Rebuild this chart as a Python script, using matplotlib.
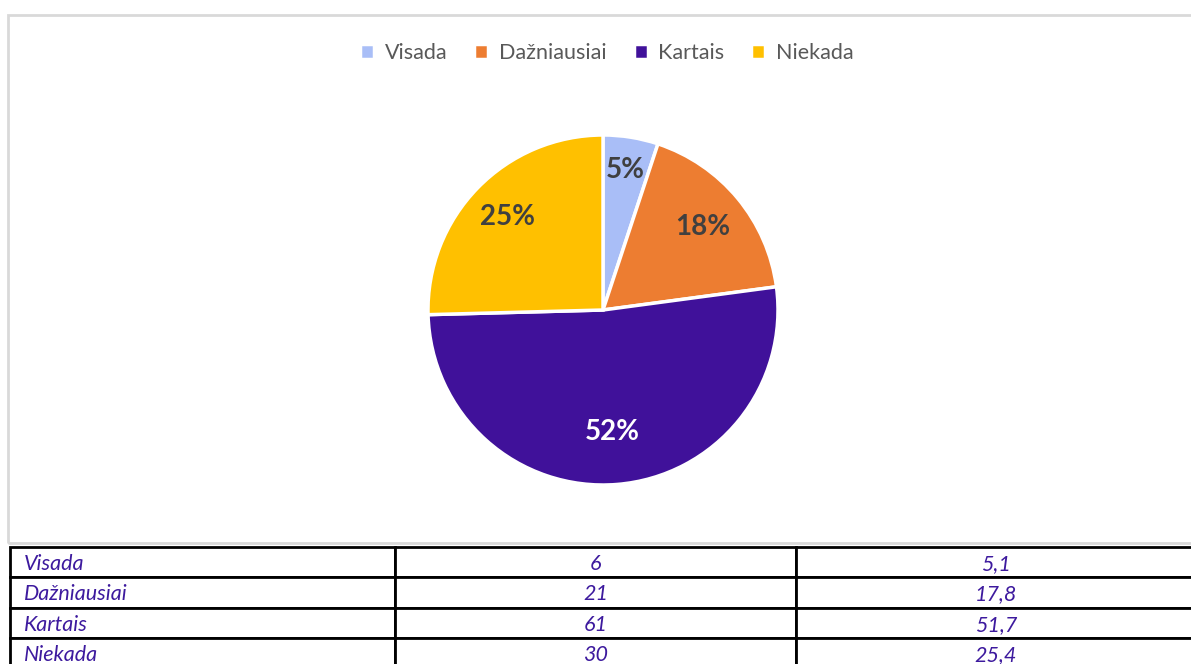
import numpy as np
import matplotlib.pyplot as plt
from matplotlib.patches import Rectangle

# Data
categories = ["Visada", "Dažniausiai", "Kartais", "Niekada"]
counts = [6, 21, 61, 30]
percents = ["5,1", "17,8", "51,7", "25,4"]
pie_labels = ["5%", "18%", "52%", "25%"]
colors = ["#A9BEF7", "#ED7D31", "#40119A", "#FFC000"]
label_colors = ["#404040", "#404040", "white", "#404040"]

W, H = 1191, 664
fig = plt.figure(figsize=(W / 100, H / 100), dpi=100)
plt.rcParams['font.family'] = ['Lato', 'DejaVu Sans']

# chart frame (light grey border, right edge runs off the image)
fig.patches.append(Rectangle((8 / W, 1 - 543 / H), 1.2, (543 - 15) / H,
                             transform=fig.transFigure, fill=False,
                             edgecolor="#D9D9D9", linewidth=2))

# pie
cx, cy, r = 603, 310, 175
ax = fig.add_axes([(cx - r) / W, 1 - (cy + r) / H, 2 * r / W, 2 * r / H])
wedges, _ = ax.pie(counts, colors=colors, startangle=90, counterclock=False,
                   radius=1, wedgeprops=dict(edgecolor="white", linewidth=2.5))
ax.set_xlim(-1, 1)
ax.set_ylim(-1, 1)
ax.set_aspect("equal")
ax.axis("off")

# data labels
dists = [0.81, 0.74, 0.70, 0.76]
for w, lab, col, d in zip(wedges, pie_labels, label_colors, dists):
    ang = np.deg2rad((w.theta1 + w.theta2) / 2)
    ax.text(d * np.cos(ang), d * np.sin(ang), lab, ha="center", va="center",
            fontsize=20, fontweight="bold", color=col)

# legend
fig.legend(wedges, categories, loc="center", bbox_to_anchor=(607 / W, 1 - 53 / H),
           ncol=4, frameon=False, fontsize=15.5, handlelength=0.65, handleheight=0.65,
           handletextpad=0.5, columnspacing=1.25, labelcolor="#595959")

# table below the chart
tax = fig.add_axes([10 / W, 1 - 668 / H, (1196 - 10) / W, (668 - 547) / H])
tax.axis("off")
cell_text = [[c, str(n), p] for c, n, p in zip(categories, counts, percents)]
widths = [385, 400, 400]
tbl = tax.table(cellText=cell_text, colWidths=[w / sum(widths) for w in widths],
                bbox=[0, 0, 1, 1], cellLoc="center")
tbl.auto_set_font_size(False)
for (row, col), cell in tbl.get_celld().items():
    cell.set_edgecolor("black")
    cell.set_linewidth(2)
    txt = cell.get_text()
    txt.set_fontsize(15.5)
    txt.set_fontstyle("italic")
    txt.set_color("#3D1A9E")
    txt.set_va("center_baseline")
    if col == 0:
        txt.set_ha("left")
        cell.PAD = 0.035

fig.savefig("out.png", dpi=100)
